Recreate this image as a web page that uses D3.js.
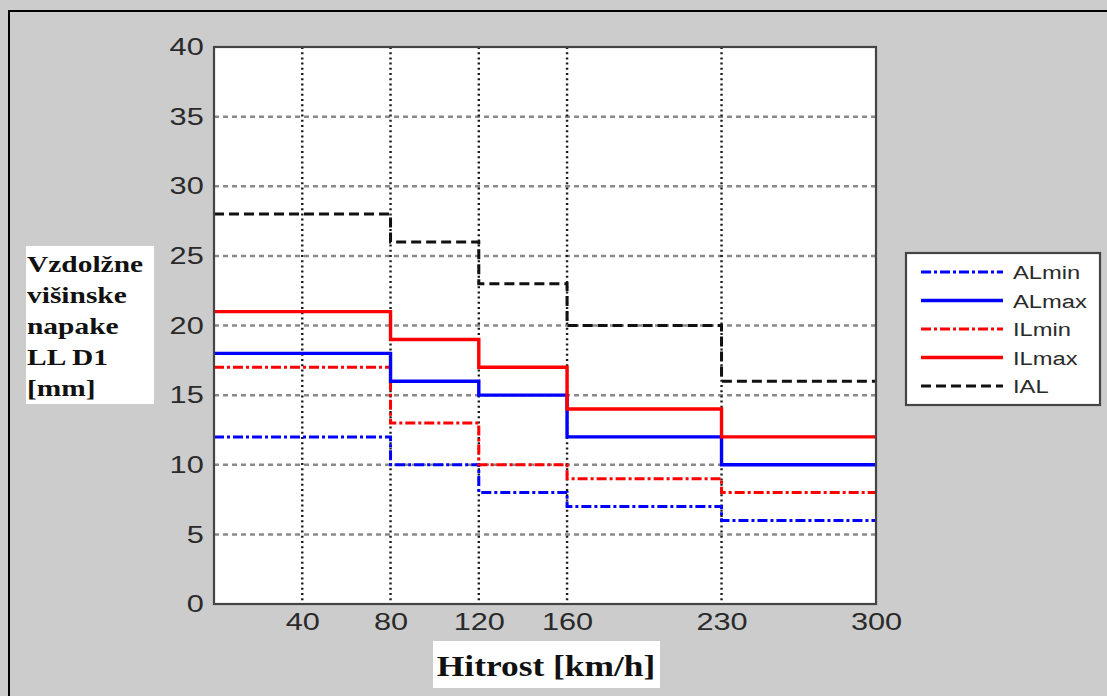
<!DOCTYPE html>
<html>
<head>
<meta charset="utf-8">
<script src="https://cdn.jsdelivr.net/npm/d3@7"></script>
<style>
  html, body { margin: 0; padding: 0; background: #cccccc; }
  svg { display: block; }
</style>
</head>
<body>
<svg id="chart" width="1107" height="696"></svg>
<script>
// Speed breakpoints (km/h) and per-segment limit values (mm)
const speedEdges = [0, 80, 120, 160, 230, 300];
const xTickValues = [40, 80, 120, 160, 230, 300];
const yTickValues = [0, 5, 10, 15, 20, 25, 30, 35, 40];

const ALmin = [12, 10, 8, 7, 6];
const ALmax = [18, 16, 15, 12, 10];
const ILmin = [17, 13, 10, 9, 8];
const ILmax = [21, 19, 17, 14, 12];
const IAL   = [28, 26, 23, 20, 16];

const seriesNames = ["ALmin", "ALmax", "ILmin", "ILmax", "IAL"];
const seriesValues = [ALmin, ALmax, ILmin, ILmax, IAL];
const seriesColors = ["#0000ff", "#0000ff", "#ff0000", "#ff0000", "#111111"];
const seriesDash = ["10,3,3,3", null, "10,3,3,3", null, "10,5"];
const seriesWidth = [3, 3.4, 3, 3.4, 3];

const yLabelLines = ["Vzdolžne", "višinske", "napake", "LL D1", "[mm]"];
const xLabelText = "Hitrost [km/h]";

// text in this figure is drawn horizontally widened
const WIDEN = 1.28;
const sans = "Liberation Sans, Arial, sans-serif";
const serif = "Liberation Serif, Times New Roman, serif";

const svg = d3.select("#chart");

// outer frame
svg.append("path")
  .attr("d", "M9,696 L9,11 L1107,11")
  .attr("fill", "none").attr("stroke", "#000").attr("stroke-width", 2);

const plot = { left: 214, top: 47, right: 876, bottom: 604 };

const x = d3.scaleLinear().domain([0, 300]).range([plot.left, plot.right]);
const y = d3.scaleLinear().domain([0, 40]).range([plot.bottom, plot.top]);

// plot background
svg.append("rect")
  .attr("x", plot.left).attr("y", plot.top)
  .attr("width", plot.right - plot.left).attr("height", plot.bottom - plot.top)
  .attr("fill", "#fff");

// horizontal grid (gray dashed)
svg.append("g").selectAll("line")
  .data(yTickValues.filter(v => v > 0 && v < 40))
  .join("line")
  .attr("x1", plot.left).attr("x2", plot.right)
  .attr("y1", d => y(d)).attr("y2", d => y(d))
  .attr("stroke", "#8a8a8a").attr("stroke-width", 2.5)
  .attr("stroke-dasharray", "5,4");

// vertical grid (black dotted)
svg.append("g").selectAll("line")
  .data(xTickValues.filter(v => v < 300))
  .join("line")
  .attr("x1", d => x(d)).attr("x2", d => x(d))
  .attr("y1", plot.top).attr("y2", plot.bottom)
  .attr("stroke", "#1a1a1a").attr("stroke-width", 2.4)
  .attr("stroke-dasharray", "2,3.2");

// step series
const line = d3.line()
  .x(d => x(d[0]))
  .y(d => y(d[1]))
  .curve(d3.curveStepAfter);

function stepPoints(vals) {
  const pts = vals.map((v, i) => [speedEdges[i], v]);
  pts.push([speedEdges[speedEdges.length - 1], vals[vals.length - 1]]);
  return pts;
}

const order = [4, 0, 2, 1, 3];
order.forEach(i => {
  svg.append("path")
    .attr("d", line(stepPoints(seriesValues[i])))
    .attr("fill", "none")
    .attr("stroke", seriesColors[i])
    .attr("stroke-width", seriesWidth[i])
    .attr("stroke-dasharray", seriesDash[i]);
});

// plot frame
svg.append("rect")
  .attr("x", plot.left).attr("y", plot.top)
  .attr("width", plot.right - plot.left).attr("height", plot.bottom - plot.top)
  .attr("fill", "none").attr("stroke", "#444").attr("stroke-width", 2.2);

// axes
const xAxis = d3.axisBottom(x).tickValues(xTickValues).tickSize(0).tickPadding(9);
const gx = svg.append("g").attr("transform", `translate(0,${plot.bottom})`).call(xAxis);
gx.select(".domain").remove();
gx.selectAll("text")
  .attr("font-family", sans)
  .attr("font-size", 24).attr("fill", "#2a2a2a")
  .attr("transform", `scale(${WIDEN},1)`);

const yAxis = d3.axisLeft(y).tickValues(yTickValues).tickSize(0).tickPadding(8);
const gy = svg.append("g").attr("transform", `translate(${plot.left},0)`).call(yAxis);
gy.select(".domain").remove();
gy.selectAll("text")
  .attr("font-family", sans)
  .attr("font-size", 24).attr("fill", "#2a2a2a")
  .attr("transform", `scale(${WIDEN},1)`);

// y axis title box
svg.append("rect")
  .attr("x", 26).attr("y", 246).attr("width", 128).attr("height", 158)
  .attr("fill", "#fff");
svg.append("g").selectAll("text")
  .data(yLabelLines)
  .join("text")
  .attr("transform", (d, i) => `translate(27,${272 + i * 31}) scale(${WIDEN},1)`)
  .attr("font-family", serif)
  .attr("font-weight", "bold")
  .attr("font-size", 23)
  .attr("fill", "#111")
  .text(d => d);

// x axis title box
svg.append("rect")
  .attr("x", 433).attr("y", 641).attr("width", 227).attr("height", 47)
  .attr("fill", "#fff");
svg.append("text")
  .attr("transform", `translate(546,676) scale(1.22,1)`)
  .attr("text-anchor", "middle")
  .attr("font-family", serif)
  .attr("font-weight", "bold")
  .attr("font-size", 29)
  .attr("fill", "#111")
  .text(xLabelText);

// legend
const legend = svg.append("g");
legend.append("rect")
  .attr("x", 906).attr("y", 253).attr("width", 194).attr("height", 152)
  .attr("fill", "#fff").attr("stroke", "#444").attr("stroke-width", 2.2);
seriesNames.forEach((name, i) => {
  const ly = 272 + i * 28.5;
  legend.append("line")
    .attr("x1", 921).attr("x2", 1003)
    .attr("y1", ly).attr("y2", ly)
    .attr("stroke", seriesColors[i])
    .attr("stroke-width", seriesWidth[i])
    .attr("stroke-dasharray", seriesDash[i]);
  legend.append("text")
    .attr("transform", `translate(1013,${ly + 7}) scale(${WIDEN + 0.04},1)`)
    .attr("font-family", sans)
    .attr("font-size", 18).attr("fill", "#2a2a2a")
    .text(name);
});
</script>
</body>
</html>
